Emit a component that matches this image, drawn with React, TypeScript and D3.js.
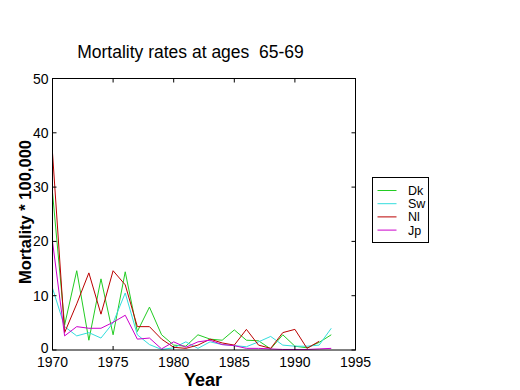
import * as d3 from 'd3';

const years = [1970, 1971, 1972, 1973, 1974, 1975, 1976, 1977, 1978, 1979, 1980, 1981,
  1982, 1983, 1984, 1985, 1986, 1987, 1988, 1989, 1990, 1991, 1992, 1993];

const dk = [29, 4.6, 14.6, 1.8, 13.1, 2.8, 14.4, 3.4, 7.9, 2.8, 0.9, 0.7, 2.8, 2.0, 1.8, 3.7, 1.8, 1.7, 0.2, 2.8, 0.7, 0.4, 1.4, 2.8];
const sw = [11.4, 4.3, 2.6, 3.2, 2.2, 5.0, 10.5, 2.8, 1.0, 0.1, 0.4, 1.5, 0.3, 1.5, 1.0, 0.8, 0.6, 1.5, 2.5, 0.9, 0.7, 0.7, 0.9, 4.0];
const nl = [36.3, 3.2, 8.5, 14.2, 6.6, 14.6, 12.0, 4.3, 4.3, 2.0, 0.5, 0.3, 0.9, 2.0, 1.3, 0.9, 3.8, 0.9, 0.3, 3.2, 3.8, 0.3, 1.6];
const jp = [20, 2.6, 4.3, 4.0, 4.0, 5.1, 6.4, 2.0, 2.2, 0.2, 1.5, 0.5, 1.5, 1.8, 1.0, 0.8, 0.3, 0.3, 0.2, 0.1, 0.1, 0.1, 0.2, 0.3];

const seriesNames = ['Dk', 'Sw', 'Nl', 'Jp'];
const seriesColors = ['#22cc22', '#33dddd', '#bb0000', '#cc00cc'];
const seriesValues = [dk, sw, nl, jp];

const xTicks = [1970, 1975, 1980, 1985, 1990, 1995];
const yTicks = [0, 10, 20, 30, 40, 50];

const font = '"Liberation Sans", Arial, Helvetica, sans-serif';

export default function App() {
  const left = 52.5, right = 355.5, top = 78.5, bottom = 350;
  const x = d3.scaleLinear().domain([1970, 1995]).range([left, right]);
  const y = d3.scaleLinear().domain([0, 50]).range([bottom, top]);

  const line = d3.line<number>()
    .x((_, i) => x(years[i]))
    .y(d => y(d));

  const tick = 4;

  return (
    <svg width={520} height={390} style={{ position: 'absolute', left: 0, top: 0, background: '#fff' }}
      fontFamily={font}>
      <rect x={0} y={0} width={520} height={390} fill="#fff" />

      {/* title */}
      <text x={190.5} y={58} textAnchor="middle" fontSize={17.5}
        style={{ whiteSpace: 'pre' }}>Mortality rates at ages  65-69</text>

      {/* series */}
      {seriesValues.map((vals, k) => (
        <path key={seriesNames[k]} d={line(vals) || ''} fill="none"
          stroke={seriesColors[k]} strokeWidth={1} />
      ))}

      {/* axes box */}
      <rect x={left} y={top} width={right - left} height={bottom - top}
        fill="none" stroke="#000" strokeWidth={1} />

      {xTicks.map(t => (
        <g key={'x' + t}>
          <line x1={x(t)} x2={x(t)} y1={bottom} y2={bottom - tick} stroke="#000" />
          <line x1={x(t)} x2={x(t)} y1={top} y2={top + tick} stroke="#000" />
          <text x={x(t)} y={bottom + 16.5} textAnchor="middle" fontSize={14}>{t}</text>
        </g>
      ))}

      {yTicks.map(t => (
        <g key={'y' + t}>
          <line x1={left} x2={left + tick} y1={y(t)} y2={y(t)} stroke="#000" />
          <line x1={right} x2={right - tick} y1={y(t)} y2={y(t)} stroke="#000" />
          <text x={left - 4} y={y(t) + (t === 0 ? 3 : 5)} textAnchor="end" fontSize={14}>{t}</text>
        </g>
      ))}

      {/* axis labels */}
      <text x={203} y={386} textAnchor="middle" fontSize={18} fontWeight="bold">Year</text>
      <text transform={`translate(31,212) rotate(-90)`} textAnchor="middle"
        fontSize={16.5} fontWeight="bold">Mortality * 100,000</text>

      {/* legend */}
      <rect x={372.5} y={177.5} width={56} height={65} fill="#fff" stroke="#000" strokeWidth={1} />
      {seriesNames.map((name, k) => {
        const ly = 190.5 + k * 13.2;
        return (
          <g key={'l' + name}>
            <line x1={377.5} x2={396.5} y1={ly} y2={ly} stroke={seriesColors[k]} strokeWidth={1} />
            <text x={408} y={ly + 4.5} fontSize={12.5}>{name}</text>
          </g>
        );
      })}
    </svg>
  );
}
